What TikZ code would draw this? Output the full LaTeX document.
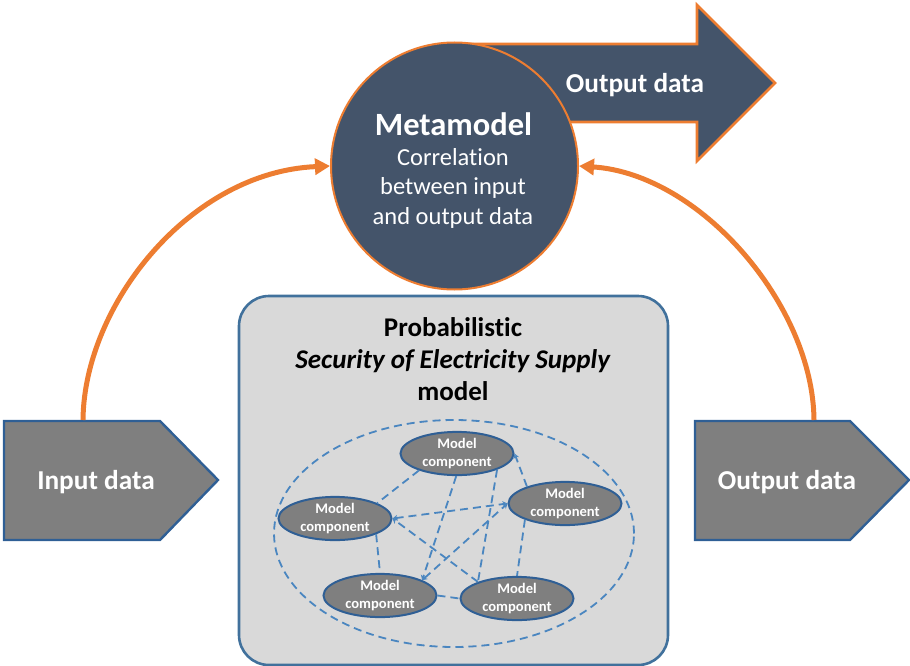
\documentclass[tikz,border=0pt]{standalone}
\usepackage{fontspec}
\setmainfont[Ligatures=CommonOff]{Carlito}
\usetikzlibrary{arrows.meta,shapes.geometric}
\definecolor{orangeline}{HTML}{ED7D31}
\definecolor{navyfill}{HTML}{44546A}
\definecolor{bluestroke}{HTML}{41719C}
\definecolor{boxfill}{HTML}{D9D9D9}
\definecolor{greyfill}{HTML}{7F7F7F}
\definecolor{darkblue}{HTML}{2F5F95}
\definecolor{dashblue}{HTML}{4A86C0}
\tikzset{
  flowarc/.style={draw=orangeline,line width=5pt,-{Triangle[length=15pt,width=16pt]}},
  tag/.style={fill=greyfill,draw=darkblue,line width=2.4pt,line join=miter},
  comp/.style={ellipse,draw=darkblue,line width=2pt,fill=greyfill,minimum width=113pt,minimum height=42pt,inner sep=0pt,text=white,font=\fontsize{14.6}{18}\selectfont\bfseries,align=center},
  link/.style={draw=dashblue,line width=1.8pt,dash pattern=on 8pt off 5pt},
  linkh/.style={link,-{Stealth[length=5pt,width=6pt,open]}},
  linkhh/.style={link,{Stealth[length=5pt,width=6pt,open]}-{Stealth[length=5pt,width=6pt,open]}},
  whitelabel/.style={text=white,align=center,inner sep=0pt},
}
\begin{document}
\begin{tikzpicture}[x=1pt,y=-1pt]
\useasboundingbox (0,0) rectangle (910,666);
% large output arrow
\draw[fill=navyfill,draw=orangeline,line width=2.6pt,line join=miter] (450,44) -- (697,44) -- (697,5) -- (775,83) -- (697,161) -- (697,122) -- (560,122) -- cycle;
\node[whitelabel,font=\fontsize{27.3}{30}\selectfont\bfseries] (topout) at (635,85) {Output data};
% metamodel
\node[circle,fill=navyfill,draw=orangeline,line width=2pt,minimum size=247pt,inner sep=0pt] (meta) at (454.5,166) {};
\node[whitelabel,font=\fontsize{32.5}{34}\selectfont\bfseries] (metatitle) at (453.5,124) {Metamodel};
\node[whitelabel,font=\fontsize{24.5}{29.5}\selectfont] (metatext) at (453,188) {Correlation\\between input\\and output data};
% model box
\draw[fill=boxfill,draw=bluestroke,line width=2.6pt,rounded corners=30pt] (239,296) rectangle (668,665);
\node[font=\fontsize{27}{32}\selectfont\bfseries,align=center,inner sep=0pt] (boxtitle) at (453,359) {Probabilistic\\\textit{Security of Electricity Supply}\\model};
% input and output tags
\draw[tag] (4,421) -- (160,421) -- (218,480) -- (160,540) -- (4,540) -- cycle;
\draw[tag] (695,421) -- (850,421) -- (909,480) -- (850,540) -- (695,540) -- cycle;
\node[whitelabel,font=\fontsize{27.3}{30}\selectfont\bfseries] (inlabel) at (96,482) {Input data};
\node[whitelabel,font=\fontsize{27.3}{30}\selectfont\bfseries] (outlabel) at (787,482) {Output data};
\coordinate (instart) at (83,420);
\coordinate (outstart) at (814,420);
% arcs
\draw[flowarc] (instart) .. controls (84,305) and (190,172) .. (meta.west);
\draw[flowarc] (outstart) .. controls (813,305) and (700,174) .. (meta.east);
% components
\node[ellipse,link,minimum width=360pt,minimum height=227pt,inner sep=0pt] (group) at (454,533.5) {};
\node[comp] (c1) at (457,453.5) {Model\\component};
\node[comp] (c2) at (565,503.5) {Model\\component};
\node[comp] (c3) at (335,518.5) {Model\\component};
\node[comp] (c4) at (380,595.5) {Model\\component};
\node[comp] (c5) at (517,598.5) {Model\\component};
\draw[link] (c1.204) -- (c3.20);
\draw[linkh] (c1.268) -- (c4.20);
\draw[link] (c1.338) -- (c5.157);
\draw[linkh] (c2.156) -- (c1.0);
\draw[linkhh] (c3.0) -- (c2.180);
\draw[linkhh] (c4.20) -- (c2.180);
\draw[link] (c2.202) -- (c5.90);
\draw[link] (c3.339) -- (c4.90);
\draw[linkh] (c5.157) -- (c3.0);
\draw[link] (c4.0) -- (c5.180);
\end{tikzpicture}
\end{document}
